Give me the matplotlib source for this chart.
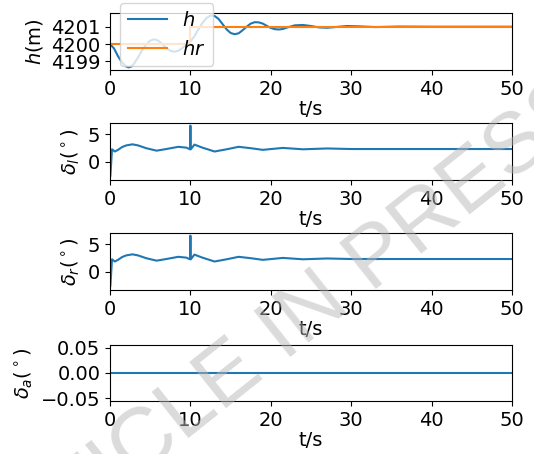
import matplotlib
matplotlib.use("Agg")
import matplotlib.pyplot as plt

plt.rcParams["font.size"] = 14

# altitude response h and reference hr
t_h = [0, 0.5, 1.0, 1.5, 2.0, 2.3, 2.7, 3.0, 3.5, 4.0, 4.5, 5.0, 5.5, 6.0, 6.5,
       7.0, 7.5, 8.0, 8.5, 9.0, 9.5, 10.0, 10.5, 11.0, 11.5, 12.0, 12.5, 13.0,
       13.5, 14.0, 14.5, 15.0, 15.5, 16.0, 16.5, 17.0, 17.5, 18.0, 18.5, 19.0,
       19.5, 20.0, 20.5, 21.0, 21.5, 22.0, 23.0, 24.0, 25.0, 26.0, 27.0, 28.0,
       29.5, 31.0, 33.0, 36.0, 40.0, 50.0]
h = [4200.0, 4199.75, 4199.3, 4198.95, 4198.72, 4198.66, 4198.72, 4198.88,
     4199.25, 4199.65, 4199.98, 4200.2, 4200.28, 4200.2, 4200.0, 4199.78,
     4199.62, 4199.56, 4199.62, 4199.78, 4199.96, 4200.15, 4200.45, 4200.85,
     4201.22, 4201.5, 4201.64, 4201.62, 4201.45, 4201.15, 4200.85, 4200.64,
     4200.57, 4200.62, 4200.8, 4201.0, 4201.18, 4201.26, 4201.25, 4201.18,
     4201.05, 4200.93, 4200.86, 4200.84, 4200.87, 4200.95, 4201.08, 4201.1,
     4201.04, 4200.96, 4200.94, 4200.98, 4201.04, 4201.02, 4200.98, 4201.01,
     4201.0, 4201.0]
t_ref = [0, 10, 10, 50]
hr = [4200, 4200, 4201, 4201]

# elevator deflections (left / right)
t_d = [0, 0.05, 0.25, 0.6, 1.0, 1.5, 2.0, 2.8, 3.5, 4.5, 5.8, 7.0, 8.5, 9.5,
       9.95, 10.0, 10.05, 10.5, 11.5, 13.0, 14.5, 16.0, 17.5, 19.0, 21.5, 24.0,
       27.0, 30.0, 35.0, 50.0]
delta_l = [-2.8, -2.5, 2.3, 1.9, 2.2, 2.7, 3.0, 3.2, 3.0, 2.5, 2.05, 2.35, 2.75,
           2.6, 2.3, 6.6, 2.3, 3.15, 2.6, 1.9, 2.3, 2.75, 2.5, 2.2, 2.55, 2.3,
           2.45, 2.35, 2.35, 2.35]
delta_r = list(delta_l)

# aileron deflection
t_a = [0, 50]
delta_a = [0, 0]

fig = plt.figure(figsize=(5.34, 4.54), dpi=100)
W, H = 534, 454


def add_ax(top, bottom):
    return fig.add_axes([110 / W, 1 - bottom / H, 402 / W, (bottom - top) / H])


ax1 = add_ax(13, 70)
ax1.plot(t_h, h, label="$h$")
ax1.plot(t_ref, hr, label="$hr$")
ax1.set_ylabel("$h$(m)")
ax1.legend(loc="upper left", bbox_to_anchor=(0.025, 1.175), borderaxespad=0)

ax2 = add_ax(123, 180)
ax2.plot(t_d, delta_l)
ax2.set_ylabel(r"$\delta_l(^\circ)$")

ax3 = add_ax(233, 290)
ax3.plot(t_d, delta_r)
ax3.set_ylabel(r"$\delta_r(^\circ)$")

ax4 = add_ax(345, 401)
ax4.plot(t_a, delta_a)
ax4.set_ylabel(r"$\delta_a(^\circ)$")

for ax in (ax1, ax2, ax3, ax4):
    ax.set_xlim(0, 50)
    ax.set_xlabel("t/s", labelpad=1)

# watermark
fig.text(0.519, 0.253, "ARTICLE IN PRESS", fontsize=62, family="Liberation Sans",
         color="#b8b8b8", alpha=0.5, rotation=38.5, rotation_mode="anchor",
         ha="center", va="center", zorder=10)

fig.savefig("out.png", dpi=100)
